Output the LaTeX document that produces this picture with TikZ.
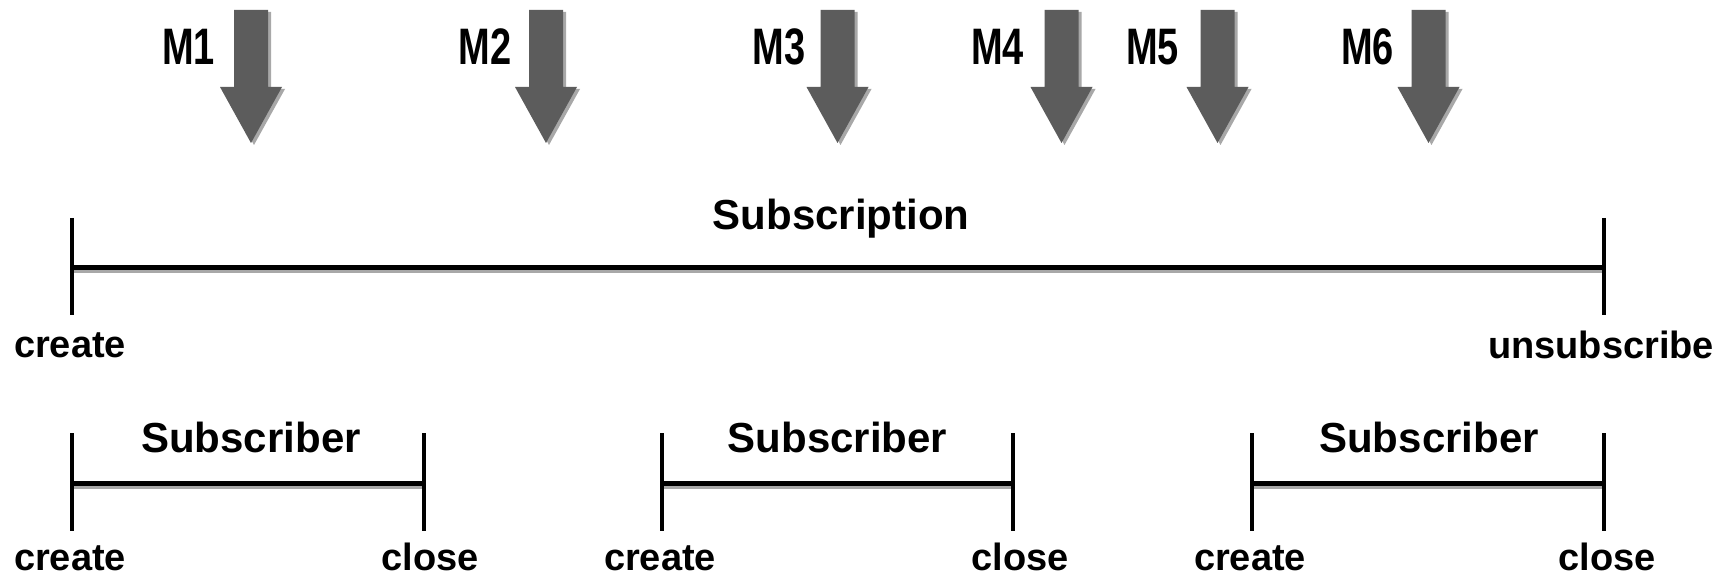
\documentclass[tikz,border=0pt]{standalone}
\usepackage{graphicx}
\usepackage{fontspec}
\setmainfont{Liberation Sans}
\definecolor{mgray}{HTML}{5C5C5C}
\definecolor{shgray}{HTML}{A8A8A8}
\begin{document}
\begin{tikzpicture}[x=1pt,y=-1pt,
  lbl/.style={font=\bfseries\fontsize{38}{44}\selectfont, inner sep=0pt, anchor=base},
  ttl/.style={font=\bfseries\fontsize{42}{48}\selectfont, inner sep=0pt, anchor=base},
  mlbl/.style={font=\bfseries\fontsize{38}{44}\selectfont, inner sep=0pt, anchor=base},
  barline/.style={line width=5pt, black},
  barshadow/.style={line width=4pt, shgray},
  tickline/.style={line width=4.5pt, black},
  msgarrow/.style={fill=mgray},
  msgshadow/.style={fill=shgray}]
\useasboundingbox[fill=white] (0,0) rectangle (1728,577);

% message arrows and labels
\foreach \c/\lx/\n in {251/188.5/1, 546/485/2, 837.5/779/3, 1061.5/997.5/4, 1217.5/1152.5/5, 1428.5/1367.5/6}{
  \fill[msgshadow] (\c-14,12) -- (\c+20,12) -- (\c+20,89) -- (\c+34,89) -- (\c+3,145) -- (\c-28,89) -- (\c-14,89) -- cycle;
  \fill[msgarrow] (\c-17,10) -- (\c+17,10) -- (\c+17,87) -- (\c+31,87) -- (\c,143) -- (\c-31,87) -- (\c-17,87) -- cycle;
  \node[mlbl] (m\n) at (\lx,65) {\scalebox{1}[1.35]{M\n}};
}

% subscription span
\coordinate (sA) at (72,267);
\coordinate (sB) at (1604,267);
\draw[barshadow] ([yshift=-4pt]sA) -- ([yshift=-4pt]sB);
\draw[barline] (sA) -- (sB);
\draw[tickline] (72,218) -- (72,315);
\draw[tickline] (1604,218) -- (1604,315);
\node[ttl] (subscription) at (841,230) {Subscription};
\node[lbl] (create0) at (70,357) {create};
\node[lbl] (unsub) at (1601,358) {unsubscribe};

% subscriber spans
\foreach \a/\b/\t/\cl/\cc/\k in {72/424/251/70/430/1, 662/1013/837.5/660/1020/2, 1252/1604/1429/1250/1607/3}{
  \coordinate (pA\k) at (\a,483);
  \coordinate (pB\k) at (\b,483);
  \draw[barshadow] ([yshift=-4pt]pA\k) -- ([yshift=-4pt]pB\k);
  \draw[barline] (pA\k) -- (pB\k);
  \draw[tickline] (\a,433) -- (\a,531);
  \draw[tickline] (\b,433) -- (\b,531);
  \node[ttl] (subscriber\k) at (\t,452) {Subscriber};
  \node[lbl] (create\k) at (\cl,570) {create};
  \node[lbl] (close\k) at (\cc,570) {close};
}
\end{tikzpicture}
\end{document}
